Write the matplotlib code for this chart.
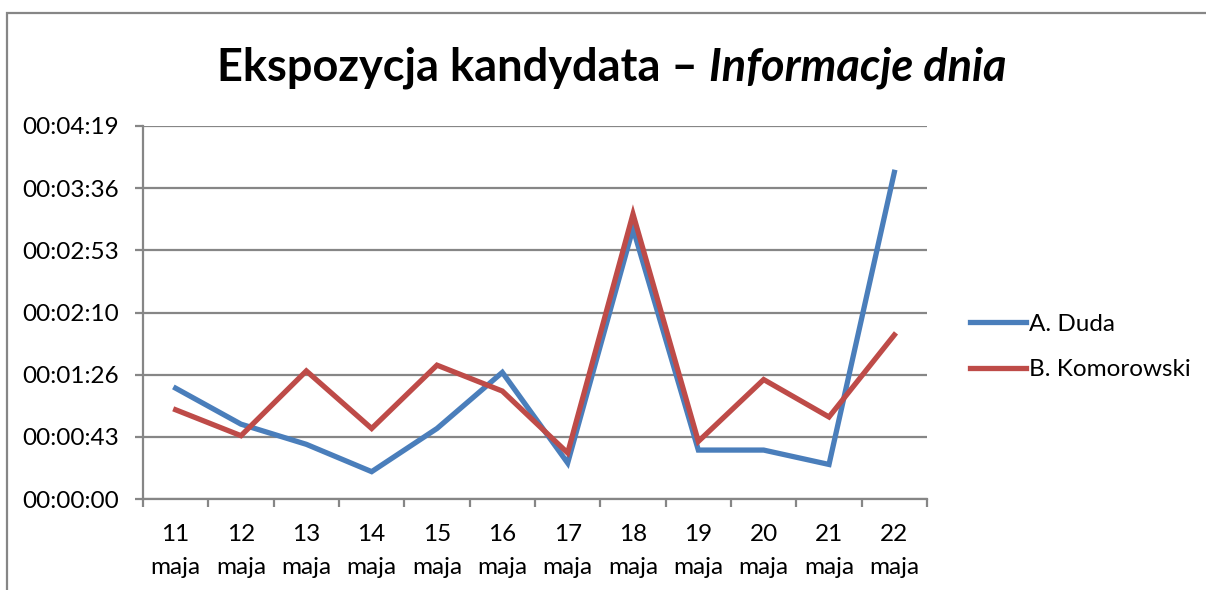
import matplotlib.pyplot as plt
from matplotlib.patches import Rectangle

# Data (seconds)
days = ['11\nmaja', '12\nmaja', '13\nmaja', '14\nmaja', '15\nmaja', '16\nmaja',
        '17\nmaja', '18\nmaja', '19\nmaja', '20\nmaja', '21\nmaja', '22\nmaja']
duda = [77, 52, 38, 19, 49, 88, 25, 188, 34, 34, 24, 227]
komorowski = [62, 44, 89, 49, 93, 75, 32, 198, 40, 83, 57, 114]
series_names = ['A. Duda', 'B. Komorowski']

blue = '#4A7EBB'
red = '#BE4B48'
gray = '#868686'

plt.rcParams['font.family'] = ['Lato', 'DejaVu Sans']

W, H = 1206, 590
fig = plt.figure(figsize=(W / 100, H / 100), dpi=100)

# chart border
fig.patches.append(Rectangle((7 / W, -0.1), 1.2, (H - 13) / H + 0.1, transform=fig.transFigure,
                             fill=False, edgecolor=gray, linewidth=1.6))

ax = fig.add_axes([143 / W, 1 - 499 / H, (927 - 143) / W, (499 - 126) / H])

x = list(range(len(days)))
ax.plot(x, duda, color=blue, lw=3.8, label=series_names[0], solid_joinstyle='miter', zorder=3)
ax.plot(x, komorowski, color=red, lw=3.8, label=series_names[1], solid_joinstyle='miter', zorder=3)

step = 43.2
yt = [i * step for i in range(7)]
ax.set_ylim(0, yt[-1])
ax.set_yticks(yt)


def fmt(v):
    s = int(round(v))
    return '%02d:%02d:%02d' % (s // 3600, (s % 3600) // 60, s % 60)


ax.set_yticklabels([fmt(v) for v in yt])
ax.yaxis.grid(True, color=gray, lw=1.6)
ax.set_axisbelow(True)

ax.set_xlim(-0.5, len(days) - 0.5)
ax.set_xticks([i - 0.5 for i in range(len(days) + 1)])
ax.set_xticklabels([])
ax.set_xticks(x, minor=True)
ax.set_xticklabels(days, minor=True, linespacing=1.7)
ax.tick_params(axis='x', which='minor', length=0, pad=18, labelsize=17.5)
ax.tick_params(axis='x', which='major', length=5.5, width=1.6, color=gray)
ax.tick_params(axis='y', length=5.5, width=1.6, color=gray, labelsize=17.5, pad=12)

for s in ['top', 'right']:
    ax.spines[s].set_visible(False)
for s in ['left', 'bottom']:
    ax.spines[s].set_color(gray)
    ax.spines[s].set_linewidth(1.6)

# title: bold + bold italic
t1 = fig.text(0.5, 1 - 68 / H, 'Ekspozycja kandydata – ', fontsize=32.5, fontweight='bold',
              ha='right', va='center')
t2 = fig.text(0.5, 1 - 68 / H, 'Informacje dnia', fontsize=32.5, fontweight='bold',
              style='italic', ha='left', va='center')
fig.canvas.draw()
r = fig.canvas.get_renderer()
w1 = t1.get_window_extent(r).width
w2 = t2.get_window_extent(r).width
center = 612
left = center - (w1 + w2) / 2
t1.set_x((left + w1) / W)
t2.set_x((left + w1) / W)

fig.legend(loc='center left', bbox_to_anchor=(970 / W, 1 - 347 / H), frameon=False,
           fontsize=17.5, handlelength=2.3, handletextpad=0.12, labelspacing=1.0,
           borderpad=0, borderaxespad=0)

fig.savefig('out.png', dpi=100)
